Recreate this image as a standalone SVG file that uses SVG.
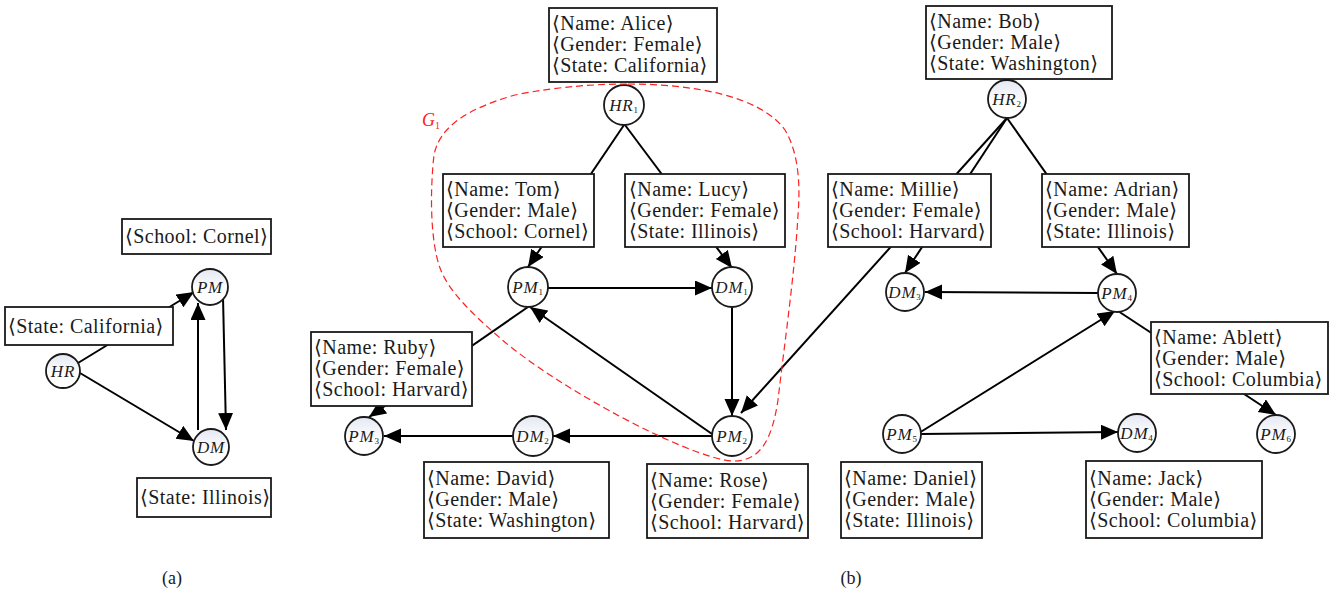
<svg xmlns="http://www.w3.org/2000/svg" width="1338" height="594" viewBox="0 0 1338 594">
  <style>
    .box rect { fill: #ffffff; stroke: #1a1a1a; stroke-width: 1.8; }
    .box text { font-family: "Liberation Serif", "DejaVu Serif", serif; font-size: 20px; letter-spacing: 0.45px; fill: #1a1a1a; }
    .node circle { fill: #ffffff; stroke: #1a1a1a; stroke-width: 1.8; }
    .node circle.tint { fill: url(#tint); }
    .node text { font-family: "Liberation Serif", "DejaVu Serif", serif; font-style: italic; font-size: 17px; letter-spacing: 0.8px; fill: #1a1a1a; text-anchor: middle; }
    .node text tspan { font-size: 9px; font-style: normal; }
    #connectors line { stroke: #000000; stroke-width: 2; fill: none; }
    #connectors line.arrow { marker-end: url(#head); }
    .group-outline { fill: none; stroke: #ff2020; stroke-width: 1.2; stroke-dasharray: 7 4; }
    .group-label { font-family: "Liberation Serif", "DejaVu Serif", serif; font-style: italic; font-size: 18px; fill: #ff2020; }
    .caption { font-family: "Liberation Serif", "DejaVu Serif", serif; font-size: 18px; fill: #1a1a1a; text-anchor: middle; }
  </style>
  <defs>
    <marker id="head" markerUnits="userSpaceOnUse" markerWidth="18" markerHeight="16" refX="17" refY="7.5" orient="auto">
      <path d="M0,0 L17,7.5 L0,15 Z" fill="#000000"/>
    </marker>
    <linearGradient id="tint" x1="0" y1="0" x2="0" y2="1">
      <stop offset="0" stop-color="#e4e8f2"/>
      <stop offset="0.6" stop-color="#ffffff"/>
    </linearGradient>
  </defs>

  <rect width="1338" height="594" fill="#ffffff"/>

  <!-- edges: drawn first so that attribute boxes cover them -->
  <g id="connectors">
    <!-- (a) -->
    <line class="arrow" x1="78" y1="363" x2="194" y2="292"/>
    <line class="arrow" x1="80" y1="373" x2="194" y2="441"/>
    <line class="arrow" x1="198" y1="430" x2="198" y2="303"/>
    <line class="arrow" x1="223" y1="297" x2="226" y2="430"/>
    <!-- (b) left component -->
    <line class="arrow" x1="624" y1="125" x2="528" y2="267"/>
    <line class="arrow" x1="625" y1="125" x2="732" y2="268"/>
    <line class="arrow" x1="548" y1="288" x2="712" y2="288"/>
    <line class="arrow" x1="732" y1="307" x2="732" y2="416"/>
    <line class="arrow" x1="712" y1="434" x2="530" y2="307"/>
    <line class="arrow" x1="712" y1="436" x2="553" y2="436"/>
    <line class="arrow" x1="514" y1="436" x2="384" y2="436"/>
    <line class="arrow" x1="528" y1="307" x2="369" y2="417"/>
    <!-- (b) right component -->
    <line class="arrow" x1="1007" y1="118" x2="905" y2="273"/>
    <line class="arrow" x1="1007" y1="118" x2="741" y2="413"/>
    <line class="arrow" x1="1007" y1="118" x2="1117" y2="274"/>
    <line class="arrow" x1="1098" y1="293" x2="925" y2="292"/>
    <line class="arrow" x1="1118" y1="311" x2="1276" y2="415"/>
    <line class="arrow" x1="919" y1="433" x2="1115" y2="311"/>
    <line class="arrow" x1="921" y1="434" x2="1118" y2="432"/>
  </g>

  <!-- (a) -->
  <g id="attr-a-school" class="box">
    <rect x="122" y="219" width="149" height="35"/>
    <text x="125" y="243">⟨School: Cornel⟩</text>
  </g>
  <g id="attr-a-california" class="box">
    <rect x="5" y="307" width="168" height="38"/>
    <text x="8" y="333">⟨State: California⟩</text>
  </g>
  <g id="attr-a-illinois" class="box">
    <rect x="137" y="478" width="134" height="39"/>
    <text x="140" y="504">⟨State: Illinois⟩</text>
  </g>
  <g id="node-a-hr" class="node">
    <circle class="tint" cx="63" cy="371" r="17"/>
    <text x="63" y="377">HR</text>
  </g>
  <g id="node-a-pm" class="node">
    <circle class="tint" cx="210" cy="287" r="18"/>
    <text x="210" y="293">PM</text>
  </g>
  <g id="node-a-dm" class="node">
    <circle class="tint" cx="211" cy="447" r="18"/>
    <text x="211" y="453">DM</text>
  </g>

  <!-- (b) attribute boxes -->
  <g id="attr-alice" class="box">
    <rect x="549" y="8" width="168" height="74"/>
    <text x="552" y="30">⟨Name: Alice⟩<tspan x="552" dy="21">⟨Gender: Female⟩</tspan><tspan x="552" dy="21">⟨State: California⟩</tspan></text>
  </g>
  <g id="attr-tom" class="box">
    <rect x="443" y="174" width="151" height="73"/>
    <text x="446" y="196">⟨Name: Tom⟩<tspan x="446" dy="21">⟨Gender: Male⟩</tspan><tspan x="446" dy="21">⟨School: Cornel⟩</tspan></text>
  </g>
  <g id="attr-lucy" class="box">
    <rect x="625" y="174" width="160" height="73"/>
    <text x="629" y="196">⟨Name: Lucy⟩<tspan x="629" dy="21">⟨Gender: Female⟩</tspan><tspan x="629" dy="21">⟨State: Illinois⟩</tspan></text>
  </g>
  <g id="attr-ruby" class="box">
    <rect x="311" y="332" width="161" height="74"/>
    <text x="314" y="354">⟨Name: Ruby⟩<tspan x="314" dy="21">⟨Gender: Female⟩</tspan><tspan x="314" dy="21">⟨School: Harvard⟩</tspan></text>
  </g>
  <g id="attr-david" class="box">
    <rect x="424" y="462" width="185" height="76"/>
    <text x="427" y="485">⟨Name: David⟩<tspan x="427" dy="21">⟨Gender: Male⟩</tspan><tspan x="427" dy="21">⟨State: Washington⟩</tspan></text>
  </g>
  <g id="attr-rose" class="box">
    <rect x="647" y="464" width="161" height="74"/>
    <text x="650" y="487">⟨Name: Rose⟩<tspan x="650" dy="21">⟨Gender: Female⟩</tspan><tspan x="650" dy="21">⟨School: Harvard⟩</tspan></text>
  </g>
  <g id="attr-bob" class="box">
    <rect x="926" y="6" width="186" height="73"/>
    <text x="929" y="28">⟨Name: Bob⟩<tspan x="929" dy="21">⟨Gender: Male⟩</tspan><tspan x="929" dy="21">⟨State: Washington⟩</tspan></text>
  </g>
  <g id="attr-millie" class="box">
    <rect x="828" y="174" width="163" height="73"/>
    <text x="831" y="196">⟨Name: Millie⟩<tspan x="831" dy="21">⟨Gender: Female⟩</tspan><tspan x="831" dy="21">⟨School: Harvard⟩</tspan></text>
  </g>
  <g id="attr-adrian" class="box">
    <rect x="1042" y="174" width="147" height="73"/>
    <text x="1045" y="196">⟨Name: Adrian⟩<tspan x="1045" dy="21">⟨Gender: Male⟩</tspan><tspan x="1045" dy="21">⟨State: Illinois⟩</tspan></text>
  </g>
  <g id="attr-ablett" class="box">
    <rect x="1151" y="322" width="177" height="72"/>
    <text x="1154" y="344">⟨Name: Ablett⟩<tspan x="1154" dy="21">⟨Gender: Male⟩</tspan><tspan x="1154" dy="21">⟨School: Columbia⟩</tspan></text>
  </g>
  <g id="attr-daniel" class="box">
    <rect x="841" y="462" width="141" height="76"/>
    <text x="844" y="485">⟨Name: Daniel⟩<tspan x="844" dy="21">⟨Gender: Male⟩</tspan><tspan x="844" dy="21">⟨State: Illinois⟩</tspan></text>
  </g>
  <g id="attr-jack" class="box">
    <rect x="1086" y="461" width="176" height="77"/>
    <text x="1089" y="485">⟨Name: Jack⟩<tspan x="1089" dy="21">⟨Gender: Male⟩</tspan><tspan x="1089" dy="21">⟨School: Columbia⟩</tspan></text>
  </g>

  <!-- (b) entity nodes -->
  <g id="node-hr1" class="node"><circle cx="624" cy="105" r="20"/><text x="624" y="111">HR<tspan dy="2">1</tspan></text></g>
  <g id="node-pm1" class="node"><circle cx="528" cy="287" r="20"/><text x="528" y="293">PM<tspan dy="2">1</tspan></text></g>
  <g id="node-dm1" class="node"><circle cx="732" cy="287" r="20"/><text x="732" y="293">DM<tspan dy="2">1</tspan></text></g>
  <g id="node-pm2" class="node"><circle cx="732" cy="436" r="20"/><text x="732" y="442">PM<tspan dy="2">2</tspan></text></g>
  <g id="node-dm2" class="node"><circle class="tint" cx="533" cy="436" r="20"/><text x="533" y="442">DM<tspan dy="2">2</tspan></text></g>
  <g id="node-pm3" class="node"><circle class="tint" cx="364" cy="436" r="19"/><text x="364" y="442">PM<tspan dy="2">3</tspan></text></g>
  <g id="node-hr2" class="node"><circle class="tint" cx="1007" cy="99" r="19"/><text x="1007" y="105">HR<tspan dy="2">2</tspan></text></g>
  <g id="node-dm3" class="node"><circle cx="905" cy="292" r="19"/><text x="905" y="298">DM<tspan dy="2">3</tspan></text></g>
  <g id="node-pm4" class="node"><circle cx="1117" cy="293" r="19"/><text x="1117" y="299">PM<tspan dy="2">4</tspan></text></g>
  <g id="node-pm5" class="node"><circle cx="902" cy="434" r="19"/><text x="902" y="440">PM<tspan dy="2">5</tspan></text></g>
  <g id="node-dm4" class="node"><circle class="tint" cx="1137" cy="433" r="19"/><text x="1137" y="439">DM<tspan dy="2">4</tspan></text></g>
  <g id="node-pm6" class="node"><circle class="tint" cx="1276" cy="434" r="19"/><text x="1276" y="440">PM<tspan dy="2">6</tspan></text></g>

  <!-- subgraph G1 outline -->
  <g id="group-g1">
    <path class="group-outline" d="M628,84 C690,84 760,95 785,130 C800,155 800,190 798,215 C795,270 785,340 778,400 C772,440 760,462 732,461 C690,458 560,390 500,338 C470,312 448,290 440,268 C430,240 430,190 434,155 C440,125 470,108 515,95 C560,86 600,84 628,84 Z"/>
    <text class="group-label" x="422" y="126">G<tspan font-size="10" font-style="normal" dy="3">1</tspan></text>
  </g>

  <text class="caption" x="172" y="584">(a)</text>
  <text class="caption" x="851" y="584">(b)</text>
</svg>
